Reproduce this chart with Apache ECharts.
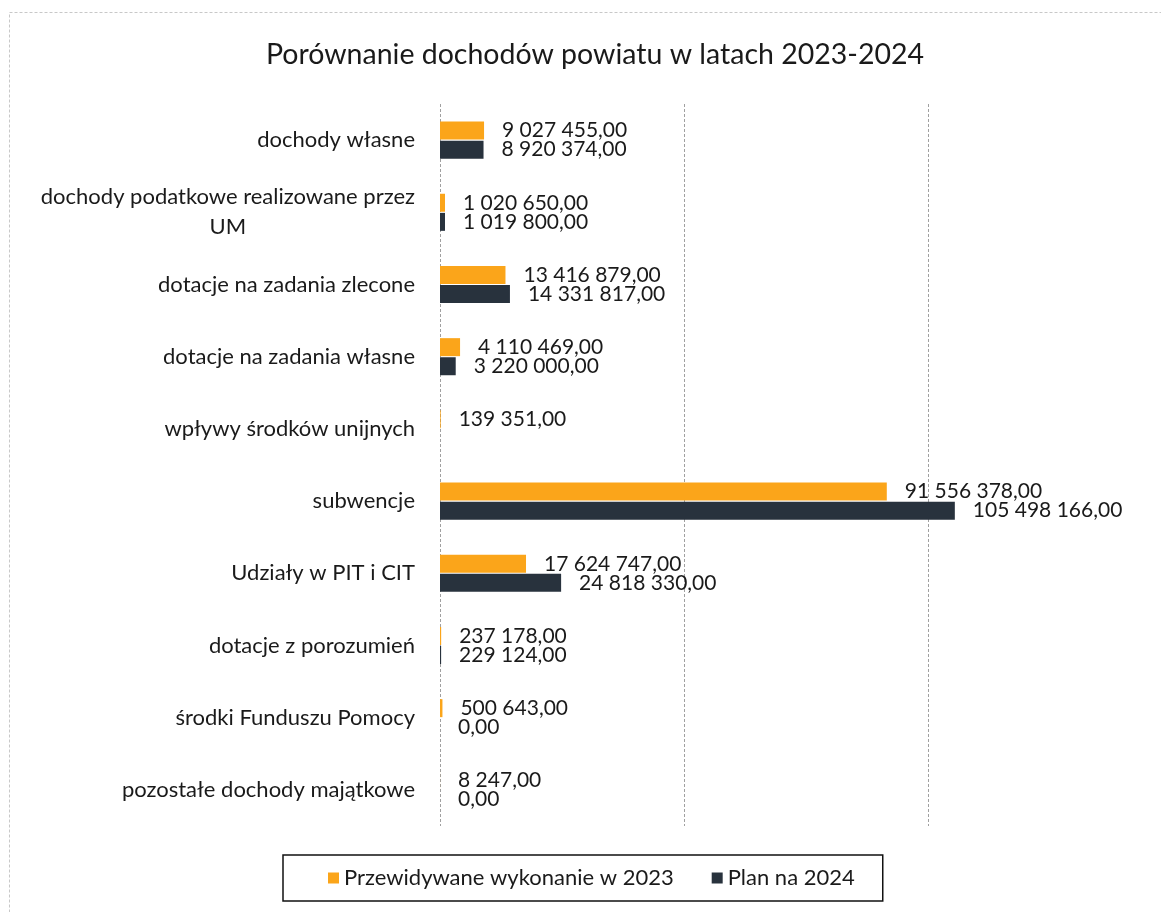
<!DOCTYPE html>
<html><head><meta charset="utf-8">
<script src="https://cdn.jsdelivr.net/npm/echarts@6/dist/echarts.min.js"></script>
<style>html,body{margin:0;padding:0;background:#fff}#c{width:1161px;height:912px}</style>
</head><body><div id="c"></div>
<script>
const categories = [
  'dochody własne',
  'dochody podatkowe realizowane przez\nUM',
  'dotacje na zadania zlecone',
  'dotacje na zadania własne',
  'wpływy środków unijnych',
  'subwencje',
  'Udziały w PIT i CIT',
  'dotacje z porozumień',
  'środki Funduszu Pomocy',
  'pozostałe dochody majątkowe'
];
const wykonanie2023 = [9027455, 1020650, 13416879, 4110469, 139351, 91556378, 17624747, 237178, 500643, 8247];
const plan2024 = [8920374, 1019800, 14331817, 3220000, null, 105498166, 24818330, 229124, 0, 0];
const seriesNames = ['Przewidywane wykonanie w 2023', 'Plan na 2024'];

function fmt(v) {
  const s = Math.round(v).toString();
  return s.replace(/\B(?=(\d{3})+(?!\d))/g, ' ') + ',00';
}
const FONT = 'Lato';
const chart = echarts.init(document.getElementById('c'));
const labelStyle = {
  show: true, position: 'right', distance: 18,
  fontFamily: FONT, fontSize: 21, color: '#1a1a1a',
  formatter: p => p.value == null ? '' : fmt(p.value)
};
chart.setOption({
  animation: false,
  backgroundColor: '#fff',
  title: {
    text: 'Porównanie dochodów powiatu w latach 2023-2024',
    left: 590, textAlign: 'center', top: 35,
    textStyle: { fontFamily: FONT, fontSize: 28.5, fontWeight: 'normal', color: '#1a1a1a' }
  },
  legend: {
    data: seriesNames,
    left: 283, top: 855,
    padding: [12, 28, 12, 45],
    borderColor: '#111', borderWidth: 1.5,
    icon: 'rect', itemWidth: 11, itemHeight: 11, itemGap: 38,
    textStyle: { fontFamily: FONT, fontSize: 22, color: '#1a1a1a' }
  },
  grid: { left: 440, top: 104, width: 585.6, height: 722, containLabel: false },
  xAxis: {
    type: 'value', min: 0, max: 120000000, interval: 50000000,
    axisLabel: { show: false }, axisTick: { show: false }, axisLine: { show: false },
    splitLine: { show: true, showMaxLine: false, lineStyle: { color: '#a0a0a0', type: [3, 2], width: 1 } }
  },
  yAxis: {
    type: 'category', data: categories, inverse: true,
    axisLine: { show: false }, axisTick: { show: false },
    axisLabel: {
      margin: 25, fontFamily: FONT, fontSize: 22, color: '#1a1a1a',
      formatter: v => v.split('\n').map(l => '{c|' + l + '}').join('\n'),
      rich: { c: { align: 'center', fontFamily: FONT, fontSize: 22, color: '#1a1a1a', lineHeight: 30 } }
    }
  },
  series: [
    { name: seriesNames[0], type: 'bar', data: wykonanie2023, barWidth: 18, barGap: '6%',
      itemStyle: { color: '#FBA51A' }, label: labelStyle },
    { name: seriesNames[1], type: 'bar', data: plan2024, barWidth: 18,
      itemStyle: { color: '#28323D' }, label: labelStyle }
  ],
  graphic: [
    { type: 'rect', shape: { x: 9.5, y: 12.5, width: 1170, height: 920 },
      style: { fill: 'none', stroke: '#c8c8c8', lineWidth: 1, lineDash: [3, 2] }, silent: true }
  ]
});
</script></body></html>
